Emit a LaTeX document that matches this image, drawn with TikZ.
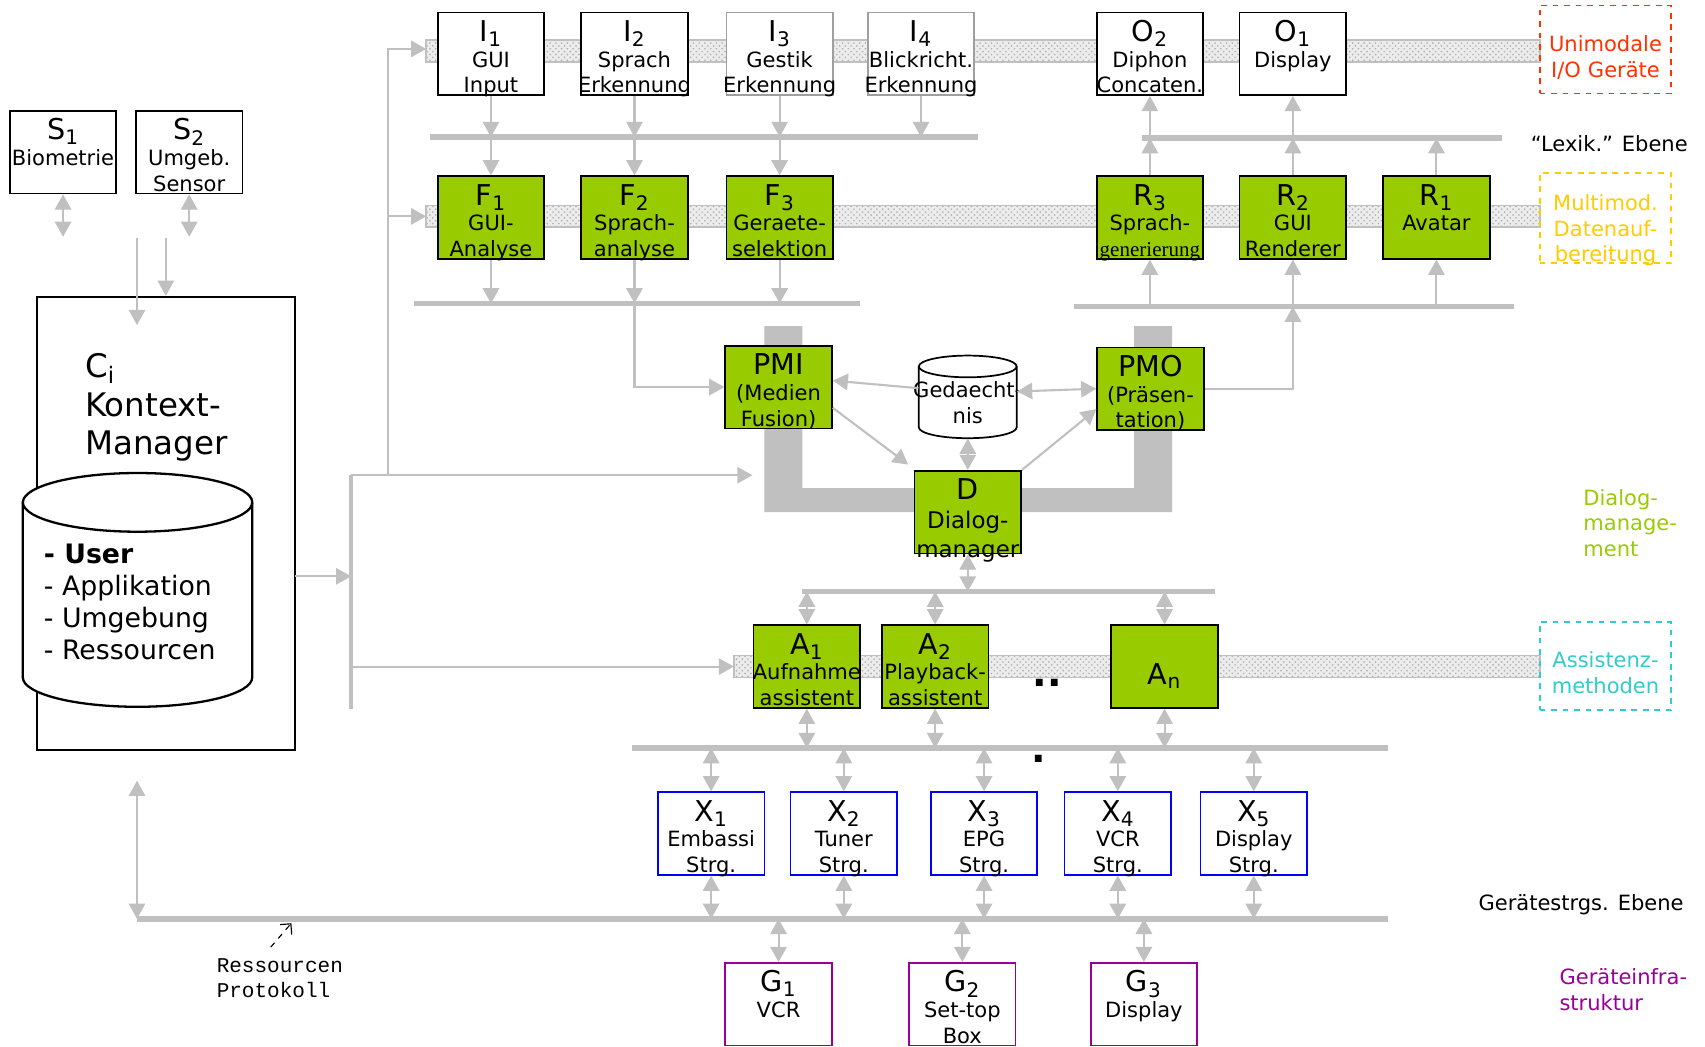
\documentclass[tikz,border=0pt]{standalone}
\usepackage{fontspec}
\setmainfont{DejaVu Sans}
\newfontfamily\genfont{Liberation Serif}
\newfontfamily\protofont{Liberation Mono}
\usepackage{tikz}
\usetikzlibrary{positioning, shapes.geometric, calc, arrows.meta, patterns}

\definecolor{linegray}{HTML}{C0C0C0}
\definecolor{procgreen}{HTML}{99CC00}
\definecolor{iored}{HTML}{FF3300}
\definecolor{mmyellow}{HTML}{FFCC00}
\definecolor{asscyan}{HTML}{33CCCC}
\definecolor{infrapurple}{HTML}{990099}
\definecolor{ctrlblue}{HTML}{0000FF}

\newcommand{\boxttl}[2]{{\fontsize{15}{15}\selectfont #1\textsubscript{#2}}}
\newcommand{\wide}[1]{\makebox[1.96cm]{#1}}

\begin{document}
\begin{tikzpicture}[
  x=0.02cm, y=-0.02cm,
  font=\fontsize{11}{13.5}\selectfont,
  >={Triangle[length=0.28cm, width=0.3cm]},
  every node/.style={align=center},
  box/.style={rectangle, draw, line width=0.9pt, fill=white, text width=1.96cm,
              text height=14pt, text depth=27pt,
              minimum width=1.96cm, minimum height=1.52cm, inner sep=0pt},
  iogray/.style={box, draw=gray!75},
  proc/.style={box, fill=procgreen},
  ctrl/.style={box, draw=ctrlblue},
  infra/.style={box, draw=infrapurple},
  layer/.style={rectangle, dashed, line width=0.9pt, text width=2.42cm, minimum width=2.42cm,
                minimum height=1.62cm, inner sep=0pt, text height=16pt, text depth=14pt},
  flow/.style={->, line width=1.1pt, draw=linegray},
  both/.style={<->, line width=1.1pt, draw=linegray},
  bus/.style={line width=0.1cm, draw=linegray},
  band/.style={draw=linegray, line width=0.8pt, preaction={fill=gray!15},
               pattern=crosshatch dots, pattern color=gray!60},
  drum/.style={line width=0.9pt, fill=white}
]
\useasboundingbox[fill=white] (0,0) rectangle (1568,962);

% --- Textured layer bands ---
\draw[band] (392,37) rectangle (1416,57);
\draw[band] (392,189) rectangle (1416,209);
\draw[band] (675,603) rectangle (1416,623);

% --- Dialog frame behind PMI / D / PMO ---
\fill[linegray] (703,300) -- (738,300) -- (738,449) -- (1043,449) -- (1043,300)
  -- (1078,300) -- (1078,471) -- (703,471) -- cycle;

% --- Buses ---
\coordinate (lexL) at (395,126);  \coordinate (lexR) at (899,126);
\coordinate (lexL2) at (1050,127); \coordinate (lexR2) at (1381,127);
\coordinate (fbL) at (381,279);   \coordinate (fbR) at (791,279);
\coordinate (rbL) at (988,282);   \coordinate (rbR) at (1392,282);
\coordinate (dbL) at (738,544);   \coordinate (dbR) at (1117,544);
\coordinate (abL) at (581,688);   \coordinate (abR) at (1276,688);
\coordinate (gbL) at (126,845);   \coordinate (gbR) at (1276,845);
\foreach \a/\b in {lexL/lexR, lexL2/lexR2, fbL/fbR, rbL/rbR, dbL/dbR, abL/abR, gbL/gbR}
  \draw[bus] (\a) -- (\b);

\coordinate (trunkTop) at (323,437);
\coordinate (trunkBot) at (323,652);
\draw[line width=0.08cm, linegray] (trunkTop) -- (trunkBot);

% --- Sensors and context manager ---
\node[box] (s1) at (58,140) {\boxttl{S}{1}\\\wide{Biometrie}};
\node[box] (s2) at (174,140) {\boxttl{S}{2}\\Umgeb.\\Sensor};

\node[draw, line width=1.2pt, minimum width=4.74cm, minimum height=8.34cm, inner sep=0pt]
  (ctx) at (152.5,481.5) {};
\node[anchor=north west, align=left, inner sep=0pt, font=\fontsize{17}{20}\selectfont]
  (ctxlabel) at (78,325) {C\textsubscript{i}\\Kontext-\\Manager};
\draw[drum, line width=1.2pt] (21,462) -- (21,623)
  arc[start angle=180, end angle=360, x radius=2.11cm, y radius=0.54cm] -- (232,462)
  arc[start angle=0, end angle=180, x radius=2.11cm, y radius=0.54cm] -- cycle;
\draw[line width=1.2pt] (21,462) arc[start angle=180, end angle=360, x radius=2.11cm, y radius=0.54cm];
\node[anchor=north west, align=left, inner sep=0pt, font=\fontsize{14}{16.7}\selectfont]
  (ctxitems) at (40,500) {\textbf{- User}\\- Applikation\\- Umgebung\\- Ressourcen};

% --- Unimodal I/O devices ---
\node[box] (i1) at (451.5,49.5) {\boxttl{I}{1}\\GUI\\Input};
\node[box] (i2) at (583.5,49.5) {\boxttl{I}{2}\\Sprach\\\wide{Erkennung}};
\node[iogray] (i3) at (717,49.5) {\boxttl{I}{3}\\Gestik\\\wide{Erkennung}};
\node[iogray] (i4) at (847,49.5) {\boxttl{I}{4}\\\wide{Blickricht.}\\\wide{Erkennung}};
\node[box] (o2) at (1057.5,49.5) {\boxttl{O}{2}\\Diphon\\\wide{Concaten.}};
\node[box] (o1) at (1189,49.5) {\boxttl{O}{1}\\Display};

% --- Multimodal processing ---
\node[proc] (f1) at (451.5,200) {\boxttl{F}{1}\\GUI-\\Analyse};
\node[proc] (f2) at (583.5,200) {\boxttl{F}{2}\\Sprach-\\analyse};
\node[proc] (f3) at (717,200) {\boxttl{F}{3}\\Geraete-\\selektion};
\node[proc] (r3) at (1057.5,200) {\boxttl{R}{3}\\Sprach-\\\wide{\genfont generierung}};
\node[proc] (r2) at (1189,200) {\boxttl{R}{2}\\GUI\\Renderer};
\node[proc] (r1) at (1321,200) {\boxttl{R}{1}\\Avatar};

% --- Dialog management ---
\node[proc] (pmi) at (716,356) {{\fontsize{15}{15}\selectfont PMI}\\(Medien\\Fusion)};
\node[proc] (pmo) at (1058,357.5) {{\fontsize{15}{15}\selectfont PMO}\\\wide{(Präsen-}\\tation)};
\draw[drum] (845,337) -- (845,393)
  arc[start angle=180, end angle=360, x radius=0.9cm, y radius=0.2cm] -- (935,337)
  arc[start angle=0, end angle=180, x radius=0.9cm, y radius=0.2cm] -- cycle;
\draw[line width=0.9pt] (845,337) arc[start angle=180, end angle=360, x radius=0.9cm, y radius=0.2cm];
\node[minimum width=1.8cm, minimum height=1.52cm, inner sep=0pt] (ged) at (890,365) {};
\node (gedtext) at ([yshift=-0.1cm]ged.center) {\wide{Gedaecht-}\\nis};
\node[proc, font=\fontsize{12}{15}\selectfont] (d) at (890,471) {{\fontsize{15}{15}\selectfont D}\\Dialog-\\manager};

% --- Assistants ---
\node[proc] (a1) at (742,613) {\boxttl{A}{1}\\\wide{Aufnahme}\\assistent};
\node[proc] (a2) at (860,613) {\boxttl{A}{2}\\\wide{Playback-}\\assistent};
\node[proc, text height=22pt, text depth=3pt] (an) at (1071,613) {\boxttl{A}{n}};
\node[font=\bfseries\fontsize{20}{20}\selectfont, anchor=base] (dots) at (963,631) {..};
\node[font=\bfseries\fontsize{20}{20}\selectfont, anchor=base] (dot) at (955,701) {.};

% --- Device control and infrastructure ---
\node[ctrl] (x1) at (654,766.5) {\boxttl{X}{1}\\Embassi\\Strg.};
\node[ctrl] (x2) at (776,766.5) {\boxttl{X}{2}\\Tuner\\Strg.};
\node[ctrl] (x3) at (905,766.5) {\boxttl{X}{3}\\EPG\\Strg.};
\node[ctrl] (x4) at (1028,766.5) {\boxttl{X}{4}\\VCR\\Strg.};
\node[ctrl] (x5) at (1153,766.5) {\boxttl{X}{5}\\Display\\Strg.};
\node[infra] (g1) at (716,923.5) {\boxttl{G}{1}\\VCR};
\node[infra] (g2) at (885,923.5) {\boxttl{G}{2}\\Set-top\\Box};
\node[infra] (g3) at (1052,923.5) {\boxttl{G}{3}\\Display};

% --- Layer labels ---
\node[layer, draw=iored, text=iored] (unimod) at (1476.5,45.5) {Unimodale\\I/O Geräte};
\node[layer, draw=mmyellow, text=mmyellow, minimum height=1.66cm, text height=14pt, text depth=22pt]
  (multimod) at (1476.5,200.5) {Multimod.\\Datenauf-\\bereitung};
\node[layer, draw=asscyan, text=asscyan] (assist) at (1476.5,612.5) {Assistenz-\\methoden};
\node (lexlabel) at (1480,132) {“Lexik.” Ebene};
\node[anchor=west, align=left, text=procgreen] (dlglabel) at (1450,481) {Dialog-\\manage-\\ment};
\node (ctrllabel) at (1454,832) {Gerätestrgs. Ebene};
\node[anchor=west, align=left, text=infrapurple] (infralabel) at (1428,910) {Geräteinfra-\\struktur};
\node[anchor=north west, align=left, inner sep=0pt, font=\protofont\fontsize{11}{13}\selectfont]
  (resprot) at (199,881) {Ressourcen\\Protokoll};

% --- Arrows: inputs ---
\coordinate (feed) at (357,437);
\coordinate (bandI) at (392,45);
\coordinate (bandF) at (392,199);
\coordinate (dlgIn) at (692,437);
\coordinate (asIn) at (675,613);
\coordinate (ctxOut) at (271,530);
\coordinate (ctxLow) at (126,718);
\draw[flow] (trunkTop) -- (dlgIn);
\draw[flow] (feed) |- (bandI);
\draw[flow] (feed |- bandF) -- (bandF);
\draw[flow] (ctxOut) -- (ctxOut -| trunkTop);
\draw[flow] (asIn -| trunkTop) -- (asIn);

\draw[both] (s1.south) -- ++(0,39);
\draw[both] (s2.south) -- ++(0,39);
\draw[flow] ([xshift=-0.53cm, yshift=1.06cm]ctx.north) -- ++(0,80);
\draw[flow] ([yshift=1.06cm]ctx.north) -- (ctx.north);
\draw[both] (ctxLow) -- (gbL);

\foreach \i/\f in {i1/f1, i2/f2, i3/f3} {
  \draw[flow] (\i.south) -- (\i.south |- lexL);
  \draw[flow] (\i.south |- lexL) -- (\f.north);
}
\draw[flow] (i4.south) -- (i4.south |- lexL);
\foreach \f in {f1, f2, f3}
  \draw[flow] (\f.south) -- (\f.south |- fbL);
\draw[flow] (f2.south |- fbL) |- (pmi.west);

% --- Arrows: outputs ---
\foreach \r/\o in {r3/o2, r2/o1} {
  \draw[flow] (\r.north) -- (\r.north |- lexL2);
  \draw[flow] (\r.north |- lexL2) -- (\o.south);
}
\draw[flow] (r1.north) -- (r1.north |- lexL2);
\foreach \r in {r3, r2, r1}
  \draw[flow] (\r.south |- rbL) -- (\r.south);
\draw[flow] (pmo.east) -| (r2.south |- rbL);

% --- Arrows: dialog core ---
\draw[flow] ([yshift=0.16cm]ged.west) -- ([yshift=0.12cm]pmi.east);
\draw[both] ([yshift=0.1cm]ged.east) -- (pmo.west);
\draw[flow] ([yshift=-0.38cm]pmi.east) -- ([xshift=-0.1cm, yshift=0.1cm]d.north west);
\draw[flow] (d.north east) -- ([yshift=0.4cm]pmo.south west);
\draw[both] (ged.south) -- (d.north);

% --- Arrows: assistants and devices ---
\draw[both] (d.south) -- (d.south |- dbL);
\foreach \a in {a1, a2, an} {
  \draw[both] (\a.north |- dbL) -- (\a.north);
  \draw[both] (\a.south) -- (\a.south |- abL);
}
\foreach \n in {1,...,5} {
  \draw[both] (x\n.north |- abL) -- (x\n.north);
  \draw[both] (x\n.south) -- (x\n.south |- gbL);
}
\foreach \n in {1,2,3}
  \draw[both] (g\n.north |- gbL) -- (g\n.north);

\coordinate (protoTip) at (268,849);
\draw[dashed, line width=0.6pt, -{Straight Barb[length=4pt]}] ([xshift=-0.38cm, yshift=-0.44cm]protoTip) -- (protoTip);

\end{tikzpicture}
\end{document}
